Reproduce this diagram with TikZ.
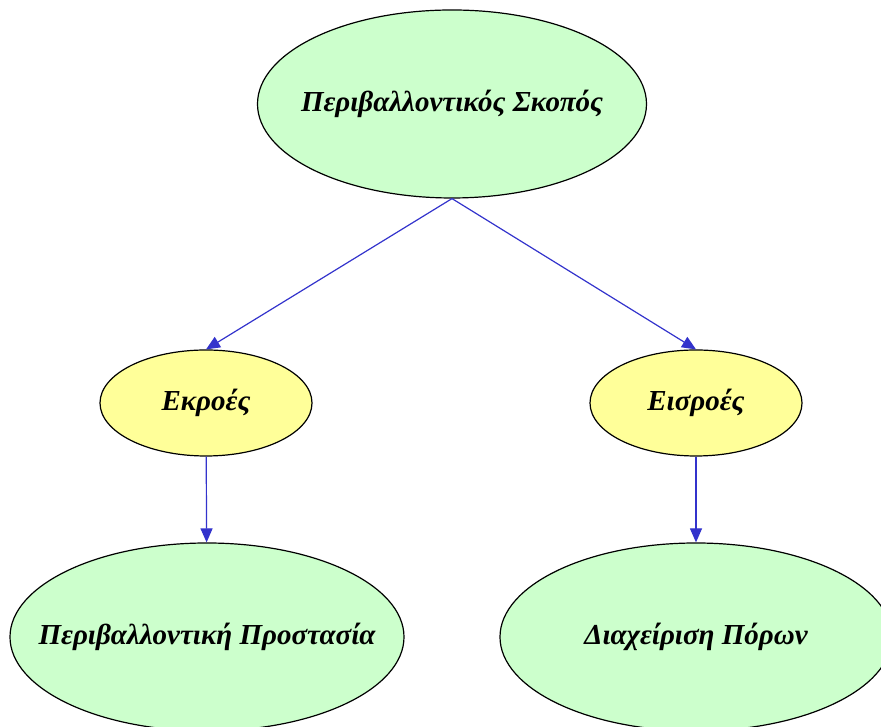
\documentclass[tikz,border=0pt]{standalone}
\usepackage{fontspec}
\setmainfont{Liberation Serif}
\usepackage{xcolor}
\usetikzlibrary{arrows.meta}
\usetikzlibrary{positioning,shapes.geometric}
\definecolor{goalgreen}{RGB}{204,255,204}
\definecolor{flowyellow}{RGB}{255,255,153}
\definecolor{linkblue}{RGB}{51,51,204}
\tikzset{%
  >={Triangle[width=12pt,length=14pt]},
  % Specifications for style of nodes:
  base/.style = {ellipse, draw=black, line width=1.2pt, inner sep=0pt,
    text centered, font=\bfseries\itshape\fontsize{29}{34}\selectfont},
  goal/.style = {base, fill=goalgreen, inner xsep=-40pt,
    minimum width=389pt, minimum height=188pt},
  flow/.style = {base, fill=flowyellow, minimum width=212pt, minimum height=106pt},
  link/.style = {->, draw=linkblue, line width=1.2pt},
}

\begin{document}
\begin{tikzpicture}[x=1pt, y=1pt, node distance=299pt]
        \useasboundingbox (0,0) rectangle (881,727);
        % Specification of nodes (position, etc.)
        \node(Goal)[goal] at (452,623){Περιβαλλοντικός Σκοπός};
        \node(Out)[flow,below of=Goal,xshift=-246pt]{Εκροές};
        \node(In)[flow,below of=Goal,xshift=244pt]{Εισροές};
        \node(Prot)[goal,below of=Out,yshift=65pt,xshift=1pt,minimum width=394pt]{Περιβαλλοντική Προστασία};
        \node(Res)[goal,below of=In,yshift=65pt,minimum width=392pt]{Διαχείριση Πόρων};
        \draw[link](Goal.south) -- (Out.north);
        \draw[link](Goal.south) -- (In.north);
        \draw[link](Out) -- (Prot);
        \draw[link](In) -- (Res);
    \end{tikzpicture}
\end{document}
